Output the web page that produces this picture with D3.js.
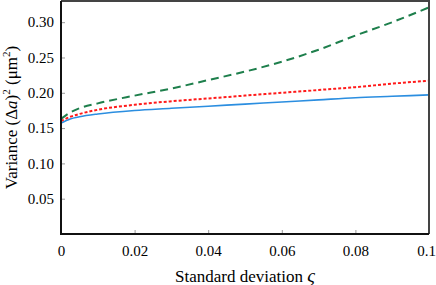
<!DOCTYPE html>
<html>
<head>
<meta charset="utf-8">
<script src="https://cdn.jsdelivr.net/npm/d3@7"></script>
<style>
  body { margin: 0; background: #fff; }
</style>
</head>
<body>
<div id="chart"></div>
<script>
const sigma = [0, 0.0025, 0.005, 0.01, 0.02, 0.03, 0.04, 0.05, 0.06, 0.07, 0.08, 0.09, 0.1];
const greenDashed = [0.163, 0.172, 0.178, 0.185, 0.196, 0.206, 0.218, 0.23, 0.244, 0.261, 0.281, 0.3, 0.321];
const redDotted = [0.16, 0.166, 0.17, 0.176, 0.183, 0.188, 0.192, 0.196, 0.2, 0.204, 0.208, 0.213, 0.217];
const blueSolid = [0.157, 0.163, 0.166, 0.17, 0.175, 0.178, 0.181, 0.184, 0.187, 0.19, 0.193, 0.195, 0.197];
const xTicks = [0, 0.02, 0.04, 0.06, 0.08, 0.1];
const xTickLabels = ["0", "0.02", "0.04", "0.06", "0.08", "0.1"];
const yTicks = [0.05, 0.1, 0.15, 0.2, 0.25, 0.3];

const width = 436, height = 285;
const margin = { top: 1, right: 7, bottom: 51, left: 61 };
const FONT = "Liberation Serif";

const svg = d3.select("#chart").append("svg")
  .attr("width", width)
  .attr("height", height)
  .attr("font-family", FONT);

const x = d3.scaleLinear().domain([0, 0.1]).range([margin.left, width - margin.right]);
const y = d3.scaleLinear().domain([0, 0.33]).range([height - margin.bottom, margin.top]);

// ticks point inward, labels outside
svg.append("g")
  .attr("transform", `translate(0,${height - margin.bottom})`)
  .call(d3.axisBottom(x).tickValues(xTicks).tickSize(-4).tickFormat((d, i) => xTickLabels[i]))
  .attr("font-family", FONT)
  .attr("font-size", 15)
  .call(g => g.select(".domain").remove())
  .call(g => g.selectAll(".tick line").attr("stroke", "#999"))
  .call(g => g.selectAll(".tick text")
    .attr("font-family", FONT)
    .attr("y", 11).attr("dy", "0.71em")
    .attr("dx", d => d === 0.1 ? -3 : 0)
    .attr("fill", "#000"));

svg.append("g")
  .attr("transform", `translate(${margin.left},0)`)
  .call(d3.axisLeft(y).tickValues(yTicks).tickSize(-4).tickFormat(d3.format(".2f")))
  .attr("font-family", FONT)
  .attr("font-size", 15)
  .call(g => g.select(".domain").remove())
  .call(g => g.selectAll(".tick line").attr("stroke", "#999"))
  .call(g => g.selectAll(".tick text")
    .attr("font-family", FONT)
    .attr("x", -7)
    .attr("fill", "#000"));

const series = [
  { values: blueSolid, color: "#2b8ee0", dash: null, w: 1.6 },
  { values: redDotted, color: "#ff1a1a", dash: "3,2", w: 2 },
  { values: greenDashed, color: "#1e7f4c", dash: "8,5", w: 2 }
];

const line = d3.line()
  .x((d, i) => x(sigma[i]))
  .y(d => y(d))
  .curve(d3.curveMonotoneX);

svg.append("g").selectAll("path")
  .data(series)
  .join("path")
  .attr("d", d => line(d.values))
  .attr("fill", "none")
  .attr("stroke", d => d.color)
  .attr("stroke-width", d => d.w)
  .attr("stroke-dasharray", d => d.dash);

// frame
const x0 = margin.left, x1 = width - margin.right;
const y0 = margin.top, y1 = height - margin.bottom;
svg.append("path")
  .attr("d", `M${x0},${y0}H${x1}V${y1}`)
  .attr("fill", "none").attr("stroke", "#444").attr("stroke-width", 2);
svg.append("path")
  .attr("d", `M${x0},${y0}V${y1}H${x1}`)
  .attr("fill", "none").attr("stroke", "#111").attr("stroke-width", 2);

// axis titles
const xl = svg.append("text")
  .attr("font-family", FONT)
  .attr("x", (x0 + x1) / 2)
  .attr("y", 282)
  .attr("text-anchor", "middle")
  .attr("font-size", 17);
xl.append("tspan").attr("font-family", FONT).text("Standard deviation ");
xl.append("tspan").attr("font-family", FONT).attr("font-style", "italic").attr("font-size", 19).text("ς");

const yl = svg.append("text")
  .attr("font-family", FONT)
  .attr("transform", `translate(17,${(y0 + y1) / 2}) rotate(-90)`)
  .attr("text-anchor", "middle")
  .attr("font-size", 17);
yl.append("tspan").attr("font-family", FONT).text("Variance (Δ");
yl.append("tspan").attr("font-family", FONT).attr("font-style", "italic").text("a");
yl.append("tspan").attr("font-family", FONT).text(")");
yl.append("tspan").attr("font-family", FONT).attr("dy", -7).attr("font-size", 11).text("2");
yl.append("tspan").attr("font-family", FONT).attr("dy", 7).text(" (μm");
yl.append("tspan").attr("font-family", FONT).attr("dy", -7).attr("font-size", 11).text("2");
yl.append("tspan").attr("font-family", FONT).attr("dy", 7).text(")");
</script>
</body>
</html>
